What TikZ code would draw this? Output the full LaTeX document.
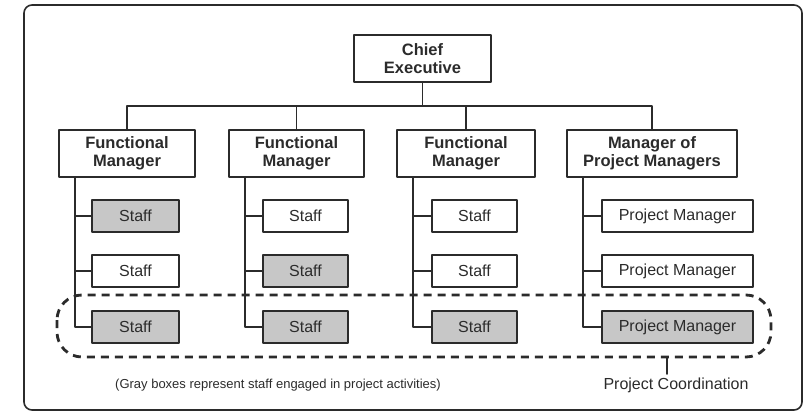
\documentclass[tikz,border=0pt]{standalone}
\usepackage{fontspec}
\setmainfont{Liberation Sans}
\usepackage{tikz}
\usetikzlibrary{calc, positioning}
\usepackage{xcolor}
\definecolor{boxgray}{rgb}{0.78, 0.78, 0.78}
\definecolor{inkgray}{rgb}{0.17, 0.17, 0.17}

\begin{document}
\begin{tikzpicture}[x=1pt, y=-1pt, line cap=round, line join=round,
	mgrbox/.style={draw=inkgray, line width=2pt, minimum height=47pt, inner sep=0pt, align=center, font=\fontsize{16.5}{17.5}\selectfont\bfseries, text=inkgray},
	staffbox/.style={draw=inkgray, line width=2pt, minimum height=32pt, inner sep=0pt, font=\fontsize{16}{17}\selectfont, text=inkgray},
	grybox/.style={staffbox, fill=boxgray},
	tree/.style={draw=inkgray, line width=1.6pt}]
	% frame
	\useasboundingbox (0,0) rectangle (805,412);
	\draw[inkgray, line width=1.6pt, rounded corners=8pt] (24,5) rectangle (802,410);

	% managers
	\node[mgrbox, minimum width=137pt] (ce) at (422.5,58.5) {Chief\\Executive};
	\node[mgrbox, minimum width=136pt] (fm1) at (127,153.5) {Functional\\Manager};
	\node[mgrbox, minimum width=135pt] (fm2) at (296.5,153.5) {Functional\\Manager};
	\node[mgrbox, minimum width=138pt] (fm3) at (466,153.5) {Functional\\Manager};
	\node[mgrbox, minimum width=170pt] (mpm) at (652,153.5) {Manager of\\Project Managers};

	% staff boxes
	\node[grybox, minimum width=87pt] (s11) at (135.5,216) {Staff};
	\node[staffbox, minimum width=87pt] (s12) at (135.5,271) {Staff};
	\node[grybox, minimum width=87pt] (s13) at (135.5,327) {Staff};
	\node[staffbox, minimum width=85pt] (s21) at (305.5,216) {Staff};
	\node[grybox, minimum width=85pt] (s22) at (305.5,271) {Staff};
	\node[grybox, minimum width=85pt] (s23) at (305.5,327) {Staff};
	\node[staffbox, minimum width=85pt] (s31) at (474.5,216) {Staff};
	\node[staffbox, minimum width=85pt] (s32) at (474.5,271) {Staff};
	\node[grybox, minimum width=85pt] (s33) at (474.5,327) {Staff};
	\node[staffbox, minimum width=151pt] (s41) at (677.5,216) {Project Manager};
	\node[staffbox, minimum width=151pt] (s42) at (677.5,271) {Project Manager};
	\node[grybox, minimum width=151pt] (s43) at (677.5,327) {Project Manager};

	% tree lines
	\coordinate (bus) at ($(ce.south)!0.5!(ce.south |- fm1.north)$);
	\draw[tree] (ce.south) -- (bus);
	\foreach \m in {fm1,fm2,fm3,mpm}
		\draw[tree] (\m.north) |- (bus);
	\foreach \m/\c in {fm1/1,fm2/2,fm3/3,mpm/4} {
		\coordinate (sp\c) at ([xshift=17pt]\m.south west);
		\foreach \r in {1,2,3}
			\draw[tree] (sp\c) |- (s\c\r.west);
	}

	% project coordination
	\draw[inkgray, line width=2.8pt, line cap=butt, dash pattern=on 8pt off 6pt, rounded corners=25pt] (57,295) rectangle (771,357);
	\coordinate (tk) at (667,357);
	\node[font=\fontsize{16}{17}\selectfont, text=inkgray, anchor=north] (pc) at (676,374) {Project Coordination};
	\draw[tree] (tk) -- (tk |- pc.north);
	\node[font=\fontsize{13}{14}\selectfont, text=inkgray] (note) at (278,385) {(Gray boxes represent staff engaged in project activities)};
\end{tikzpicture}
\end{document}
